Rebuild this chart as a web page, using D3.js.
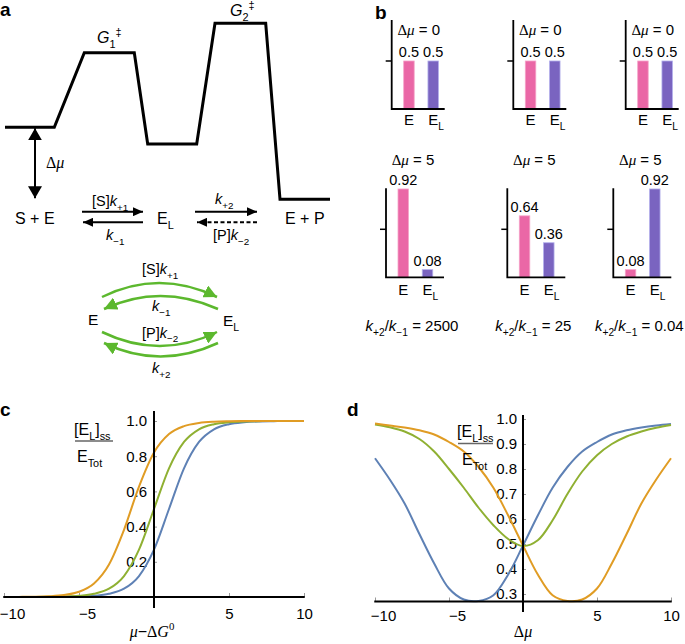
<!DOCTYPE html>
<html><head><meta charset="utf-8">
<script src="https://cdn.jsdelivr.net/npm/d3@7"></script>
<style>
body{margin:0;background:#fff}
svg{display:block}
text{font-family:"Liberation Sans",Arial,Helvetica,sans-serif;fill:#000}
</style>
</head><body>
<svg id="fig" width="685" height="644"></svg>
<script>
// ================= DATA =================
// Panel a: free-energy profile (reaction coordinate, energy in arbitrary units)
const profileX = [0, 4.93, 7.93, 12.93, 14.27, 19.17, 21.0, 26.07, 27.5, 32.5];
const profileE = [0, 0, 5, 5, -1.12, -1.12, 6.98, 6.98, -4.83, -4.83];
const dmuArrowX = 3.0;

// Panel b: steady-state occupancies
const barCats = ["E", "EL"];
const barTopValues = [[0.5, 0.5], [0.5, 0.5], [0.5, 0.5]];
const barBottomValues = [[0.92, 0.08], [0.64, 0.36], [0.08, 0.92]];
const barTopValueLabels = [["0.5", "0.5"], ["0.5", "0.5"], ["0.5", "0.5"]];
const barBottomValueLabels = [["0.92", "0.08"], ["0.64", "0.36"], ["0.08", "0.92"]];
const dmuTop = "0";
const dmuBottom = "5";
const kRatioLabels = ["2500", "25", "0.04"];
const barTickValue = [0.5];

// Panel c: [EL]ss/Etot vs mu - dG0
const cX = [-10,-9,-8,-7,-6,-5,-4,-3,-2,-1,0,1,2,3,4,5,6,7,8,9,10];
const cOrange = [0.0002,0.0006,0.0015,0.0042,0.0112,0.030,0.077,0.185,0.382,0.627,0.821,0.926,0.971,0.989,0.996,0.9985,0.9995,1,1,1,1];
const cGreen  = [0.0001,0.0001,0.0003,0.0009,0.0025,0.0067,0.018,0.047,0.119,0.269,0.50,0.731,0.881,0.953,0.982,0.993,0.9975,0.999,1,1,1];
const cBlue   = [0,0,0.0001,0.0003,0.0009,0.0025,0.0067,0.018,0.047,0.119,0.269,0.50,0.731,0.881,0.953,0.982,0.993,0.9975,0.999,1,1];
const cXTicks = [-10, -5, 5, 10];
const cYTicks = [0.2, 0.4, 0.6, 0.8, 1.0];

// Panel d: [EL]ss/Etot vs delta mu
const dX = [-10,-9,-8,-7,-6,-5,-4,-3,-2,-1,0,1,2,3,4,5,6,7,8,9,10];
const dBlue   = [0.843,0.758,0.662,0.540,0.422,0.322,0.278,0.272,0.295,0.378,0.494,0.614,0.725,0.808,0.870,0.908,0.938,0.955,0.966,0.974,0.980];
const dOrange = [0.982,0.974,0.966,0.955,0.938,0.908,0.870,0.808,0.725,0.614,0.494,0.378,0.295,0.272,0.278,0.322,0.422,0.540,0.662,0.758,0.843];
const dGreen  = [0.978,0.967,0.950,0.920,0.870,0.800,0.725,0.645,0.575,0.520,0.492,0.515,0.595,0.700,0.790,0.855,0.900,0.930,0.950,0.965,0.976];
const dXTicks = [-10, -5, 5, 10];
const dYTicks = [0.3, 0.4, 0.5, 0.6, 0.7, 0.8, 0.9, 1.0];

// ================= STYLE =================
const C_BLUE = "#5e81b5", C_ORANGE = "#e09c24", C_GREEN = "#8fb032";
const C_PINK = "#ea67a6", C_PINK_EDGE = "#f6a3c9";
const C_PURPLE = "#7a64c0", C_PURPLE_EDGE = "#b3b0ec";
const C_CYCLE = "#5cb82e";
const SERIF = '"Liberation Serif","Times New Roman",serif';

const svg = d3.select("#fig");
svg.append("rect").attr("width", 685).attr("height", 644).attr("fill", "#fff");

function rich(parent, x, y, segs, opt) {
  opt = opt || {};
  const size = opt.size || 15;
  const t = parent.append("text").attr("x", x).attr("y", y)
    .attr("font-size", size).attr("text-anchor", opt.anchor || "start");
  if (opt.family) t.style("font-family", opt.family);
  let cur = 0;
  segs.forEach(s => {
    if (typeof s === "string") s = {t: s};
    const off = s.sub ? size * 0.32 : s.sup ? -size * 0.42 : 0;
    const ts = t.append("tspan").attr("dy", off - cur).text(s.t);
    cur = off;
    if (s.sub || s.sup) ts.attr("font-size", size * 0.68);
    if (s.i) ts.style("font-style", "italic");
    if (s.serif) ts.style("font-family", SERIF);
  });
  return t;
}

// markers
const defs = svg.append("defs");
function marker(id, len, wid, color) {
  defs.append("marker").attr("id", id).attr("markerUnits", "userSpaceOnUse")
    .attr("markerWidth", len).attr("markerHeight", wid)
    .attr("refX", len).attr("refY", wid / 2).attr("orient", "auto-start-reverse")
    .append("path").attr("d", `M0,0L${len},${wid/2}L0,${wid}Z`).attr("fill", color).attr("stroke", "none");
}
marker("arrBlack", 10, 9, "#000");
marker("arrBig", 12, 14, "#000");
marker("arrGreen", 13, 13, C_CYCLE);

// panel letters
[["a", 0, 15.5], ["b", 375, 19], ["c", 0, 416], ["d", 347, 416]].forEach(([l, x, y]) =>
  svg.append("text").attr("x", x).attr("y", y).attr("font-size", 19).attr("font-weight", "bold").text(l));

// ================= PANEL a =================
const ga = svg.append("g");
const ax = d3.scaleLinear().domain([0, 32.5]).range([5, 330]);
const ae = d3.scaleLinear().domain([-5, 7]).range([201.8, 23.0]);
ga.append("path")
  .attr("d", d3.line().x(i => ax(profileX[i])).y(i => ae(profileE[i]))(d3.range(profileX.length)))
  .attr("fill", "none").attr("stroke", "#000").attr("stroke-width", 3).attr("stroke-linejoin", "miter");
ga.append("line").attr("x1", ax(dmuArrowX)).attr("x2", ax(dmuArrowX))
  .attr("y1", ae(0) + 1).attr("y2", ae(-4.83) - 1)
  .attr("stroke", "#000").attr("stroke-width", 2)
  .attr("marker-start", "url(#arrBig)").attr("marker-end", "url(#arrBig)");
rich(ga, 46, 168, [{t: "Δ", serif: true}, {t: "μ", serif: true, i: true}], {size: 16});
rich(ga, 97, 43, [{t: "G", i: true}, {t: "1", sub: true}, {t: "‡", sup: true}], {size: 16});
rich(ga, 230, 16, [{t: "G", i: true}, {t: "2", sub: true}, {t: "‡", sup: true}], {size: 16});

// reaction scheme
rich(ga, 15, 224, ["S + E"], {size: 16});
rich(ga, 157, 224, ["E", {t: "L", sub: true}], {size: 16});
rich(ga, 285, 224, ["E + P"], {size: 16});
function arrow(x1, x2, y, dashed) {
  const l = ga.append("line").attr("x1", x1).attr("x2", x2).attr("y1", y).attr("y2", y)
    .attr("stroke", "#000").attr("stroke-width", 2).attr("marker-end", "url(#arrBlack)");
  if (dashed) l.attr("stroke-dasharray", "4,2.5");
}
arrow(82, 143, 211.7);
arrow(143, 83, 222.3);
arrow(195, 257, 211.7);
arrow(257, 197, 222.3, true);
rich(ga, 92, 206, ["[S]", {t: "k", i: true}, {t: "+1", sub: true}], {size: 14.5});
rich(ga, 106, 240, [{t: "k", i: true}, {t: "−1", sub: true}], {size: 14.5});
rich(ga, 215, 204, [{t: "k", i: true}, {t: "+2", sub: true}], {size: 14.5});
rich(ga, 213, 240, ["[P]", {t: "k", i: true}, {t: "−2", sub: true}], {size: 14.5});

// cycle
rich(ga, 88, 325, ["E"], {size: 15.5});
rich(ga, 223, 326, ["E", {t: "L", sub: true}], {size: 15.5});
[["M102,297Q159,269 217,297"], ["M218,309Q160,283 104,309"],
 ["M102,332Q160,360 217,332"], ["M218,343Q160,370 104,343"]].forEach(([d]) =>
  ga.append("path").attr("d", d).attr("fill", "none").attr("stroke", C_CYCLE)
    .attr("stroke-width", 2.5).attr("marker-end", "url(#arrGreen)"));
rich(ga, 142, 274, ["[S]", {t: "k", i: true}, {t: "+1", sub: true}], {size: 14.5});
rich(ga, 152, 311, [{t: "k", i: true}, {t: "−1", sub: true}], {size: 14.5});
rich(ga, 142, 337.5, ["[P]", {t: "k", i: true}, {t: "−2", sub: true}], {size: 14.5});
rich(ga, 152, 373, [{t: "k", i: true}, {t: "+2", sub: true}], {size: 14.5});

// ================= PANEL b =================
const gb = svg.append("g");
const rows = [
  {vals: barTopValues, labs: barTopValueLabels, axes: [391.7, 513.3, 625.7], y0: 109, y1: 20, xlen: 53, dmu: dmuTop, dmuY: 34.5, catY: 125},
  {vals: barBottomValues, labs: barBottomValueLabels, axes: [386, 507.3, 613.3], y0: 277.3, y1: 188.3, xlen: 58, dmu: dmuBottom, dmuY: 165, catY: 295}
];
rows.forEach((row, ri) => {
  row.axes.forEach((axX, ci) => {
    const g = gb.append("g");
    const y = d3.scaleLinear().domain([0, 0.927]).range([row.y0, row.y1]);
    const x = d3.scalePoint().domain(barCats).range([axX + 17.25, axX + 41.5]);
    const bw = 10.5;
    barCats.forEach((c, k) => {
      const v = row.vals[ci][k];
      g.append("rect").attr("x", x(c) - bw / 2).attr("width", bw)
        .attr("y", y(v)).attr("height", y(0) - y(v))
        .attr("fill", k === 0 ? C_PINK : C_PURPLE)
        .attr("stroke", k === 0 ? C_PINK_EDGE : C_PURPLE_EDGE).attr("stroke-width", 0.8);
      g.append("text").attr("x", x(c)).attr("y", y(v) - 4).attr("text-anchor", "middle")
        .attr("font-size", 14.5).text(row.labs[ci][k]);
      if (c === "E") rich(g, x(c), row.catY, ["E"], {size: 15, anchor: "middle"});
      else rich(g, x(c) - 5, row.catY, ["E", {t: "L", sub: true}], {size: 15});
    });
    g.append("path").attr("d", `M${axX},${y(0.927)}V${y(0)}H${axX + row.xlen}`)
      .attr("fill", "none").attr("stroke", "#000").attr("stroke-width", 1.8);
    barTickValue.forEach(t => g.append("line").attr("x1", axX - 6).attr("x2", axX)
      .attr("y1", y(t)).attr("y2", y(t)).attr("stroke", "#000").attr("stroke-width", 1.5));
    rich(g, axX + 27, row.dmuY, [{t: "Δ", serif: true}, {t: "μ", serif: true, i: true}, " = " + row.dmu], {size: 15, anchor: "middle"});
    if (ri === 1) {
      rich(g, axX + 26, 331, [{t: "k", i: true}, {t: "+2", sub: true}, "/", {t: "k", i: true}, {t: "−1", sub: true}, " = " + kRatioLabels[ci]], {size: 15, anchor: "middle"});
    }
  });
});

// ================= PANELS c & d =================
function fmt(d) { return d < 0 ? "−" + Math.abs(d) : String(d); }
function linePanel(cfg) {
  const g = svg.append("g");
  const x = d3.scaleLinear().domain([-10, 10]).range(cfg.xr);
  const y = d3.scaleLinear().domain(cfg.yd).range(cfg.yr);
  const y0 = y(cfg.yd[0]);
  // y tick labels
  const yax = g.append("g").attr("transform", `translate(${x(0)},0)`)
    .call(d3.axisLeft(y).tickValues(cfg.yTicks).tickSize(-3).tickPadding(cfg.yPad).tickFormat(d3.format(".1f")));
  yax.select(".domain").remove();
  yax.attr("font-size", 15);
  yax.selectAll(".tick line").attr("stroke", "#999");
  // x tick labels
  const xax = g.append("g").attr("transform", `translate(0,${y0})`)
    .call(d3.axisBottom(x).tickValues(cfg.xTicks).tickSize(-4).tickPadding(cfg.xPad).tickFormat(fmt));
  xax.select(".domain").remove();
  xax.attr("font-size", 15);
  xax.selectAll(".tick line").attr("stroke", "#999");
  xax.selectAll(".tick text").attr("dx", d => d < 0 ? 8 : 0);
  // curves
  const line = d3.line().x((d, i) => x(cfg.xs[i])).y(d => y(d)).curve(cfg.curve);
  cfg.series.forEach(([vals, col]) =>
    g.append("path").attr("d", line(vals)).attr("fill", "none").attr("stroke", col).attr("stroke-width", 2));
  // axes
  g.append("line").attr("x1", x(-10.05)).attr("x2", x(10.05)).attr("y1", y0).attr("y2", y0)
    .attr("stroke", "#000").attr("stroke-width", 2);
  g.append("line").attr("x1", x(0)).attr("x2", x(0)).attr("y1", cfg.vTop).attr("y2", cfg.vBot)
    .attr("stroke", "#000").attr("stroke-width", 2);
  // y label fraction
  rich(g, cfg.fx, cfg.fy, ["[E", {t: "L", sub: true}, "]", {t: "ss", sub: true}], {size: 16});
  g.append("line").attr("x1", cfg.fx + 1).attr("x2", cfg.fx + cfg.fw).attr("y1", cfg.fy + 6.5).attr("y2", cfg.fy + 6.5)
    .attr("stroke", "#666").attr("stroke-width", 1.6);
  rich(g, cfg.fx + cfg.fo, cfg.fy + 27.5, ["E", {t: "Tot", sub: true}], {size: 16});
  // x label
  rich(g, x(0) + cfg.xlabDx, 637, cfg.xlab, {size: 16, anchor: "middle"});
  return g;
}

linePanel({
  xr: [4, 304], yd: [0, 1], yr: [597, 421], xs: cX,
  yTicks: cYTicks, xTicks: cXTicks, yPad: 7, xPad: 11.3,
  curve: d3.curveMonotoneX,
  series: [[cBlue, C_BLUE], [cGreen, C_GREEN], [cOrange, C_ORANGE]],
  vTop: 411, vBot: 608,
  fx: 74, fy: 434.5, fw: 39, fo: 3,
  xlab: [{t: "μ", i: true, serif: true}, "−", {t: "Δ", serif: true}, {t: "G", i: true, serif: true}, {t: "0", sup: true, serif: true}],
  xlabDx: -2
});

linePanel({
  xr: [375, 671], yd: [0.27, 1], yr: [601.5, 419], xs: dX,
  yTicks: dYTicks, xTicks: dXTicks, yPad: 6, xPad: 8.7,
  curve: d3.curveCatmullRom,
  series: [[dBlue, C_BLUE], [dGreen, C_GREEN], [dOrange, C_ORANGE]],
  vTop: 415, vBot: 612,
  fx: 457, fy: 437, fw: 36, fo: 5,
  xlab: [{t: "Δ", serif: true}, {t: "μ", i: true, serif: true}],
  xlabDx: 0
});
</script>
</body></html>
